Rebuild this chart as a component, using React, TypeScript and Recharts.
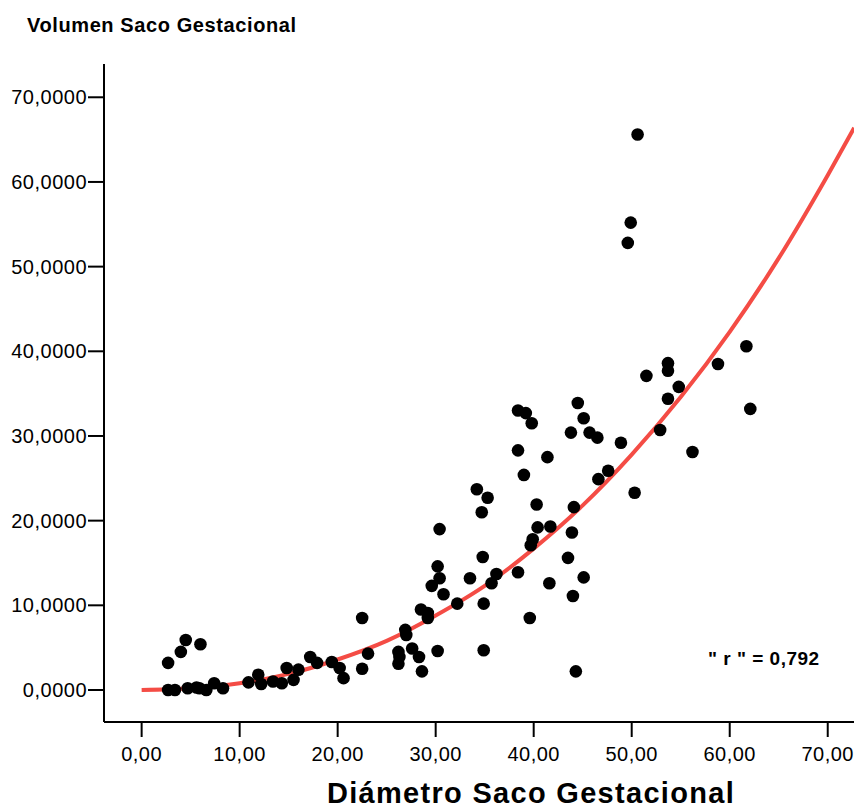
import { ComposedChart, Scatter, Line, XAxis, YAxis } from "recharts"

// Diámetro Saco Gestacional (x) y Volumen Saco Gestacional (y)
const diametro = [
  2.7, 4.0, 4.5, 6.0, 2.7, 3.4, 4.7, 5.6, 5.9, 6.6, 7.4, 8.3, 10.9, 11.9, 12.2, 13.4, 14.3, 14.8, 15.5, 16.0, 17.2,
  17.9, 19.4, 20.2, 20.6,
  22.5, 22.5, 23.1, 26.2, 26.3, 26.2, 26.9, 27.0, 27.6, 28.3, 28.6, 28.5, 29.2, 29.2, 29.6, 30.2, 30.4, 30.4, 30.8,
  30.2, 32.2, 33.5, 34.2, 34.7, 34.8, 34.9, 34.9, 35.3, 35.7, 36.2,
  38.4, 39.2, 39.8, 38.4, 39.0, 38.4, 39.6, 39.7, 39.9, 40.3, 40.4, 41.4, 41.6, 41.7, 43.5, 43.8, 43.9, 44.0, 44.1,
  44.3, 44.5, 45.1, 45.1, 45.7, 46.5, 46.6, 47.6, 48.9, 49.6, 49.9, 50.3, 50.6, 51.5, 52.9, 53.7, 53.7, 53.7, 54.8,
  56.2, 58.8, 61.7, 62.1,
]
const volumen = [
  3.2, 4.5, 5.9, 5.4, 0.0, 0.0, 0.2, 0.3, 0.2, 0.0, 0.8, 0.2, 0.9, 1.8, 0.7, 1.0, 0.8, 2.6, 1.2, 2.4, 3.9,
  3.2, 3.3, 2.6, 1.4,
  8.5, 2.5, 4.3, 4.5, 3.9, 3.1, 7.1, 6.5, 4.9, 3.9, 2.2, 9.5, 9.1, 8.5, 12.3, 14.6, 13.2, 19.0, 11.3,
  4.6, 10.2, 13.2, 23.7, 21.0, 15.7, 10.2, 4.7, 22.7, 12.6, 13.7,
  33.0, 32.7, 31.5, 28.3, 25.4, 13.9, 8.5, 17.1, 17.8, 21.9, 19.2, 27.5, 12.6, 19.3, 15.6, 30.4, 18.6, 11.1, 21.6,
  2.2, 33.9, 32.1, 13.3, 30.4, 29.8, 24.9, 25.9, 29.2, 52.8, 55.2, 23.3, 65.6, 37.1, 30.7, 38.6, 37.7, 34.4, 35.8,
  28.1, 38.5, 40.6, 33.2,
]

// curva de ajuste
const ajusteX = [0, 5, 10, 15, 20, 25, 30, 35, 40, 45, 50, 55, 60, 65, 70, 72.7]
const ajusteY = [0, 0.2, 0.8, 1.9, 3.6, 5.8, 8.8, 12.3, 16.7, 21.8, 27.8, 34.6, 42.3, 51.0, 60.8, 66.4]

const xTicks = [0, 10, 20, 30, 40, 50, 60, 70]
const yTicks = [0, 10, 20, 30, 40, 50, 60, 70]

const puntos = diametro.map((x, i) => ({ x, y: volumen[i] }))
const curva = ajusteX.map((x, i) => ({ x, y: ajusteY[i] }))

const font = "'Liberation Sans', Arial, sans-serif"

export default function App() {
  return (
    <div style={{ position: "absolute", left: 0, top: 0, width: 854, height: 809, background: "#fff", fontFamily: font }}>
      <ComposedChart width={854} height={809} margin={{ top: 64, right: 0, bottom: 0, left: 0 }}>
        <XAxis
          xAxisId="top"
          orientation="top"
          dataKey="x"
          type="number"
          domain={[-3.84, 72.68]}
          allowDataOverflow
          height={0}
          tick={false}
          tickLine={false}
          axisLine={{ stroke: "#000", strokeWidth: 2 }}
        />
        <XAxis
          dataKey="x"
          type="number"
          domain={[-3.84, 72.68]}
          allowDataOverflow
          ticks={xTicks}
          height={87}
          tickSize={15}
          tickMargin={10}
          tickFormatter={(v: number) => v.toFixed(2).replace(".", ",")}
          tick={{ fill: "#000", fontSize: 20, fontFamily: font, letterSpacing: 0.5 }}
          tickLine={{ stroke: "#000", strokeWidth: 2 }}
          axisLine={{ stroke: "#000", strokeWidth: 2 }}
        />
        <YAxis
          dataKey="y"
          type="number"
          domain={[-3.78, 73.93]}
          allowDataOverflow
          ticks={yTicks}
          width={104}
          tickSize={16}
          tickMargin={1}
          tickFormatter={(v: number) => v.toFixed(4).replace(".", ",")}
          tick={{ fill: "#000", fontSize: 20, fontFamily: font, letterSpacing: 0.5 }}
          tickLine={{ stroke: "#000", strokeWidth: 2 }}
          axisLine={{ stroke: "#000", strokeWidth: 2 }}
        />
        <Line
          data={curva}
          dataKey="y"
          type="monotone"
          stroke="#f44c45"
          strokeWidth={4}
          dot={false}
          activeDot={false}
          isAnimationActive={false}
        />
        <Scatter
          data={puntos}
          dataKey="y"
          fill="#000"
          isAnimationActive={false}
          shape={(p: any) => <circle cx={p.cx} cy={p.cy} r={6.3} fill="#000" />}
        />
      </ComposedChart>
      <div style={{ position: "absolute", left: 27, top: 15, fontSize: 20, fontWeight: "bold", lineHeight: 1, letterSpacing: 0.6, whiteSpace: "nowrap" }}>
        Volumen Saco Gestacional
      </div>
      <div style={{ position: "absolute", left: 708, top: 649, fontSize: 19, fontWeight: "bold", lineHeight: 1, letterSpacing: 0.5, whiteSpace: "nowrap" }}>
        " r " = 0,792
      </div>
      <div style={{ position: "absolute", left: 531, top: 779, transform: "translateX(-50%)", fontSize: 29, fontWeight: "bold", lineHeight: 1, letterSpacing: 1.3, whiteSpace: "nowrap" }}>
        Diámetro Saco Gestacional
      </div>
    </div>
  )
}
